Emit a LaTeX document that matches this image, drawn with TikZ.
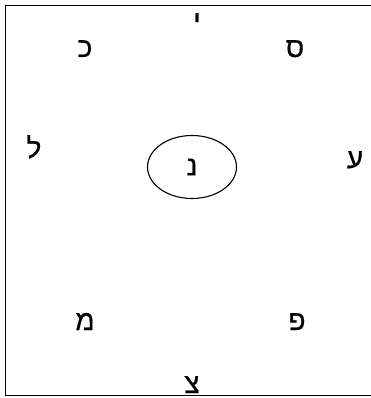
\documentclass[tikz,border=0pt]{standalone}
\usepackage{fontspec}
\usepackage{tikz}
\usetikzlibrary{shapes.geometric}
\TeXXeTstate=1
\newfontfamily\hebfont[Script=Hebrew,FakeBold=0.6]{Liberation Sans}
\newcommand{\heb}[1]{\hebfont\beginR #1\endR}

\begin{document}
\begin{tikzpicture}[x=1pt,y=-1pt,
    letter/.style={font=\hebfont\fontsize{28}{32}\selectfont, inner sep=0pt, anchor=base},
    hub/.style={letter, draw, ellipse, line width=1.1pt, anchor=center,
      minimum width=89pt, minimum height=63pt}]
  \useasboundingbox (0,0) rectangle (371,398);
  % frame, right side runs off the page
  \draw[line width=1.2pt] (5.5,5.5) rectangle (380,395.5);
  % centre
  \node[hub] (nun) at (192,167) {\heb{נ}};
  % ring of letters
  \node[letter] (yod) at (197,30) {\heb{י}};
  \node[letter] (kaf) at (85,57) {\heb{כ}};
  \node[letter] (samekh) at (295,57) {\heb{ס}};
  \node[letter] (lamed) at (34,158) {\heb{ל}};
  \node[letter] (ayin) at (355,168) {\heb{ע}};
  \node[letter] (mem) at (85,330) {\heb{מ}};
  \node[letter] (pe) at (297,330) {\heb{פ}};
  \node[letter] (tsadi) at (192,393) {\heb{צ}};
\end{tikzpicture}
\end{document}
